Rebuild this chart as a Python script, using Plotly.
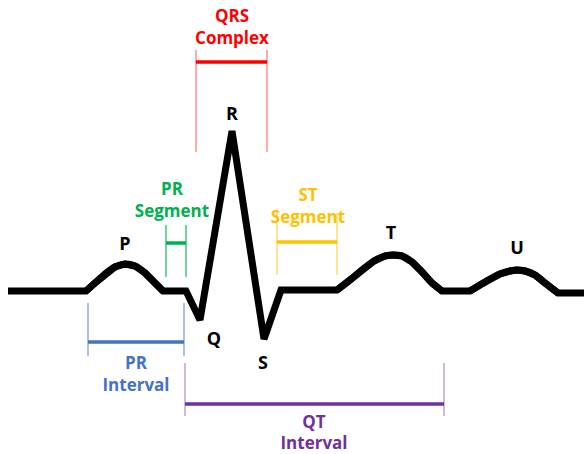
import plotly.graph_objects as go

# ---- ECG waveform (time axis = horizontal px, amplitude axis = vertical px, y grows downward)
ecg_x = [8, 86, 95, 105, 115, 125, 135, 145, 155, 163, 186, 200, 232, 264, 281, 337,
         350, 362, 374, 385, 393, 402, 412, 422, 432, 442, 470, 480, 490, 500, 510, 517,
         525, 535, 545, 558, 584]
ecg_y = [291, 291, 283, 274, 267, 264, 266, 273, 283, 291, 291, 320, 131, 339, 290, 290,
         280, 270, 261, 256, 255, 256, 262, 272, 283, 291, 291, 285, 279, 274, 271, 270,
         271, 275, 283, 293, 293]
# index ranges of the rounded waves (P, T, U) within the waveform
wave_spans = [(1, 9), (15, 25), (26, 35)]

# ---- wave labels
wave_names = ["P", "Q", "R", "S", "T", "U"]
wave_x = [125, 214, 232, 263, 391, 517]
wave_y = [245, 340, 115, 364, 234, 249]

# ---- intervals / segments
iv_line1 = ["QRS", "PR", "ST", "PR", "QT"]
iv_line2 = ["Complex", "Segment", "Segment", "Interval", "Interval"]
iv_start = [196, 166, 277, 88, 185]
iv_end = [267, 186, 337, 184, 444]
iv_bar_y = [62, 243, 242, 342, 404]
iv_tick_top = [50, 225, 213, 303, 363]
iv_tick_bot = [152, 277, 275, 356, 416]
iv_text_x = [232, 172, 308, 136, 314]
iv_text_y1 = [18, 191, 197, 365, 424]
iv_text_y2 = [40, 213, 219, 387, 445]
iv_colors = ["#FF0000", "#00B050", "#FFC000", "#4472C4", "#7030A0"]
iv_tick_colors = ["rgba(255,0,0,0.45)", "rgba(0,176,80,0.75)", "rgba(255,192,0,0.55)",
                  "rgba(68,114,196,0.6)", "rgba(112,48,160,0.45)"]

FONT = "Open Sans"

fig = go.Figure()

# interval ticks and bars
for i in range(len(iv_start)):
    for xv in (iv_start[i], iv_end[i]):
        fig.add_trace(go.Scatter(x=[xv, xv], y=[iv_tick_top[i], iv_tick_bot[i]], mode="lines",
                                 line=dict(color=iv_tick_colors[i], width=1.5),
                                 hoverinfo="skip", showlegend=False))
    fig.add_trace(go.Scatter(x=[iv_start[i], iv_end[i]], y=[iv_bar_y[i], iv_bar_y[i]], mode="lines",
                             line=dict(color=iv_colors[i], width=3.5),
                             hoverinfo="skip", showlegend=False))

# waveform
fig.add_trace(go.Scatter(x=ecg_x, y=ecg_y, mode="lines",
                         line=dict(color="black", width=7),
                         hoverinfo="skip", showlegend=False))
# smooth overlays for the rounded waves
for a, b in wave_spans:
    fig.add_trace(go.Scatter(x=ecg_x[a:b + 1], y=ecg_y[a:b + 1], mode="lines",
                             line=dict(color="black", width=7, shape="spline", smoothing=0.8),
                             hoverinfo="skip", showlegend=False))

# labels
fig.add_trace(go.Scatter(x=wave_x, y=wave_y, mode="text", text=wave_names,
                         textfont=dict(family=FONT, size=18, color="black", weight="bold"),
                         textposition="middle center", hoverinfo="skip", showlegend=False))
for i in range(len(iv_line1)):
    fig.add_trace(go.Scatter(x=[iv_text_x[i], iv_text_x[i]], y=[iv_text_y1[i], iv_text_y2[i]],
                             mode="text", text=[iv_line1[i], iv_line2[i]],
                             textfont=dict(family=FONT, size=17, color=iv_colors[i], weight="bold"),
                             textposition="middle center", hoverinfo="skip", showlegend=False))

fig.update_layout(
    width=584, height=454,
    margin=dict(l=0, r=0, t=0, b=0),
    paper_bgcolor="white", plot_bgcolor="white",
    xaxis=dict(range=[0, 584], visible=False, fixedrange=True),
    yaxis=dict(range=[454, 0], visible=False, fixedrange=True),
)

fig.write_html("out.html", config={"displayModeBar": False},
               post_script="document.body.style.margin='0';document.body.style.overflow='hidden';")
